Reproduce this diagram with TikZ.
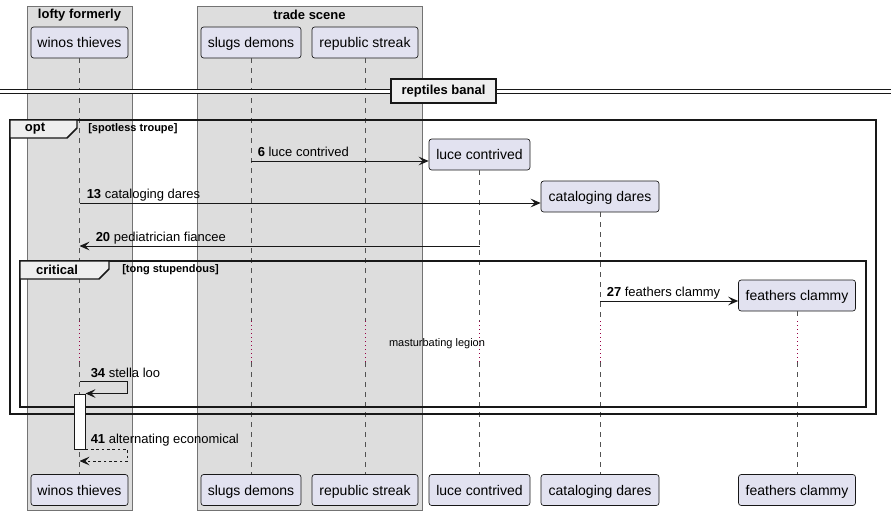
\documentclass[tikz,border=0pt]{standalone}
\usepackage{fontspec}
\setmainfont{Liberation Sans}
\usetikzlibrary{arrows.meta}
\definecolor{partfill}{HTML}{E2E2F0}
\definecolor{boxfill}{HTML}{DDDDDD}
\definecolor{tabfill}{HTML}{EEEEEE}
\definecolor{ink}{HTML}{181818}
\definecolor{delaycol}{HTML}{990044}
\tikzset{
 part/.style={draw=ink,line width=0.5pt,fill=partfill,rounded corners=2pt,minimum height=23.25pt,inner sep=0pt,text height=8.2pt,text depth=0pt,font=\fontsize{10.5}{12}\selectfont},
 grpbox/.style={draw=black!55,line width=0.75pt,fill=boxfill},
 grptitle/.style={font=\fontsize{9.75}{11}\selectfont\bfseries,inner sep=0pt},
 lifeline/.style={draw=ink!75,line width=0.5pt,dash pattern=on 3.75pt off 3.75pt},
 delayline/.style={draw=delaycol,line width=0.75pt,dash pattern=on 0.75pt off 2.25pt},
 msg/.style={draw=ink,line width=0.75pt,-{Stealth[length=7.5pt,width=6.5pt,inset=3pt]}},
 ret/.style={msg,dash pattern=on 2pt off 2pt},
 msglbl/.style={anchor=base west,inner sep=0pt,font=\fontsize{9.75}{11}\selectfont},
 frame/.style={draw=ink,line width=1.1pt},
 tab/.style={frame,fill=tabfill},
 guard/.style={anchor=west,inner sep=0pt,font=\fontsize{8.25}{10}\selectfont\bfseries},
 divbox/.style={draw=ink,line width=1.5pt,fill=tabfill,minimum width=78.75pt,minimum height=18pt,inner sep=0pt,font=\fontsize{9.75}{11}\selectfont\bfseries},
 divline/.style={draw=ink,line width=0.75pt,double=white,double distance=2.25pt},
 actbar/.style={draw=ink,line width=0.75pt,fill=white,minimum width=8.25pt,minimum height=41.25pt,inner sep=0pt}
}
\begin{document}
\begin{tikzpicture}[x=0.75pt,y=-0.75pt]
\useasboundingbox (0,0) rectangle (891,515);
\foreach \bx/\bw/\bn/\bt in {27/105/lofty/lofty formerly,197/225/trade/trade scene}{\draw[grpbox](\bx,6)rectangle++(\bw,504);\node[grptitle](\bn) at (\bx+\bw/2,15){\bt};}
\foreach \pn/\px/\py/\pw/\pt in {wt/79.5/42.5/97/winos thieves,sd/251/42.5/100/slugs demons,rs/365/42.5/106/republic streak,lc/479.5/154.5/101/luce contrived,cd/600/196.5/118/cataloging dares,fc/797/295.5/117/feathers clammy}{\node[part,minimum width=\pw*0.75pt](\pn) at (\px,\py){\pt};\node[part,minimum width=\pw*0.75pt](b\pn) at (\px,490){\pt};}
\coordinate (dtop) at (0,321);
\coordinate (dbot) at (0,362);
\foreach \pn in {wt,sd,rs,lc,cd,fc}{\draw[lifeline](\pn)--(\pn|-dtop);\draw[delayline](\pn|-dtop)--(\pn|-dbot);\draw[lifeline](\pn|-dbot)--(b\pn);}
\node[font=\fontsize{8.25}{10}\selectfont,inner sep=0pt](dly) at (437,344){masturbating legion};
\coordinate (dvl) at (0,91);
\coordinate (dvr) at (891,91);
\draw[divline](dvl)--(dvr);
\node[divbox](div) at (443.5,91){reptiles banal};
\draw[frame](10,120)rectangle(876,414);
\draw[tab](10,120)--(77,120)--(77,128)--(67,138)--(10,138)--cycle;
\node[grptitle](opt) at (35,129){opt};
\node[guard](gopt) at (88,129){[spotless troupe]};
\draw[frame](20,261)rectangle(866,407);
\draw[tab](20,261)--(109,261)--(109,269)--(99,279)--(20,279)--cycle;
\node[grptitle](crit) at (57,270){critical};
\node[guard](gcrit) at (122,270){[tong stupendous]};
\coordinate (s6) at (251,161);
\draw[msg](s6)--(lc.west|-s6);
\node[msglbl](l6) at (257.5,156.5){\textbf{6} luce contrived};
\coordinate (s13) at (79.5,203);
\draw[msg](s13)--(cd.west|-s13);
\node[msglbl](l13) at (86.5,198.5){\textbf{13} cataloging dares};
\coordinate (s20) at (479.5,246);
\draw[msg](s20)--(wt|-s20);
\node[msglbl](l20) at (95.5,241.5){\textbf{20} pediatrician fiancee};
\coordinate (s27) at (600,301);
\draw[msg](s27)--(fc.west|-s27);
\node[msglbl](l27) at (606.5,296.5){\textbf{27} feathers clammy};
\node[actbar](act) at (79.5,421.5){};
\coordinate (s34) at (79.5,381);
\draw[msg](s34)--++(47.5,0)|-(act.north east);
\node[msglbl](l34) at (90.5,377.5){\textbf{34} stella loo};
\coordinate (e41) at (79.5,461);
\draw[ret](act.south east)--++(42,0)|-(e41);
\node[msglbl](l41) at (90.5,443.5){\textbf{41} alternating economical};
\end{tikzpicture}
\end{document}
